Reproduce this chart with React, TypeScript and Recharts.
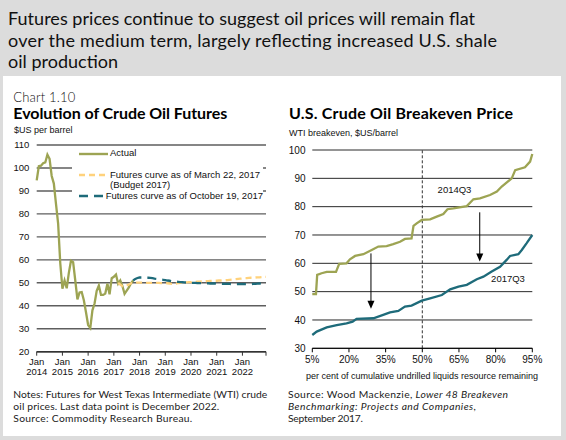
import React from 'react';
import {
  LineChart,
  Line,
  XAxis,
  YAxis,
  CartesianGrid,
  ReferenceLine,
} from 'recharts';

// left chart: monthly WTI, index 0 = Jan 2014
const yearLabels = ['2014', '2015', '2016', '2017', '2018', '2019', '2020', '2021', '2022'];
const priceTicks = [20, 30, 40, 50, 60, 70, 80, 90, 100, 110];
const actualPrices = [
  94.6, 100.8, 101.0, 102.1, 102.4, 105.8, 104.0, 96.5, 93.2, 84.4, 75.8, 58.5,
  47.4, 51.0, 47.6, 54.3, 59.6, 59.0, 51.0, 42.8, 45.8, 46.0, 42.4, 37.2,
  31.6, 30.3, 38.0, 41.0, 46.5, 48.8, 44.7, 44.7, 45.3, 49.6, 45.0, 52.0,
  52.6, 53.6, 49.6, 51.0, 48.6, 45.2, 46.6, 48.0, 49.8, 51.0,
];
const budgetStart = 38; // Mar 2017
const budgetFutures = [
  50.0, 49.2, 48.5, 48.4, 48.8, 49.3, 49.8, 50.0, 50.1, 50.1, 50.1, 50.1,
  50.1, 50.0, 50.0, 50.0, 50.0, 50.0, 50.0, 50.0, 49.9, 49.9, 49.9, 49.8,
  49.7, 49.5, 49.4, 49.6, 49.9, 50.0, 50.1, 50.2, 50.2, 50.3, 50.3, 50.4,
  50.4, 50.5, 50.5, 50.6, 50.6, 50.7, 50.7, 50.8, 50.8, 50.9, 50.9, 51.0,
  51.0, 51.1, 51.1, 51.2, 51.3, 51.4, 51.5, 51.6, 51.7, 51.8, 51.9, 52.0,
  52.0, 52.1, 52.2, 52.2, 52.3, 52.4, 52.4, 52.5, 52.6, 52.6,
];
const octStart = 45; // Oct 2017
const octFutures = [
  51.0, 51.7, 52.1, 52.3, 52.3, 52.3, 52.2, 52.2, 52.1, 52.0, 51.8, 51.7,
  51.5, 51.4, 51.3, 51.2, 51.0, 50.9, 50.7, 50.6, 50.5, 50.4, 50.3, 50.3,
  50.2, 50.1, 50.1, 50.0, 50.0, 50.0, 49.9, 49.9, 49.9, 49.8, 49.8, 49.8,
  49.7, 49.7, 49.7, 49.6, 49.6, 49.6, 49.5, 49.5, 49.5, 49.5, 49.4, 49.4,
  49.4, 49.4, 49.4, 49.4, 49.4, 49.4, 49.4, 49.4, 49.5, 49.5, 49.6, 49.7,
  49.8, 50.0, 50.3,
];
const lastMonth = 107; // Dec 2022

// right chart: breakeven curves
const shareTicks = [5, 20, 35, 50, 65, 80, 95];
const breakevenTicks = [30, 40, 50, 60, 70, 80, 90, 100];
const share2014 = [5, 6.5, 7, 8.8, 10.9, 14.7, 16, 19, 20.4, 22.5, 25.9, 29.3, 32, 35.4, 38.1, 40.9, 42.9, 45.6, 46.4, 47.7, 49.8, 53.2, 55.9, 58.6, 60.3, 62.7, 68.2, 70.9, 73.6, 77.7, 80.5, 82.5, 86.6, 88, 92, 94.1, 95];
const price2014 = [49.1, 49.1, 55.9, 56.5, 57, 57, 59.8, 60, 61.4, 62.6, 63.2, 64.7, 65.9, 66.1, 66.8, 67.6, 68.6, 68.8, 73.2, 74.1, 75.3, 75.5, 76.5, 77.4, 79.1, 79.4, 80.2, 82.6, 82.9, 84.1, 85.3, 87.1, 90, 92.9, 93.9, 95.9, 98.6];
const share2017 = [5, 6.8, 10.9, 15, 19, 21.5, 23.1, 30, 34, 36.8, 40.2, 42.9, 45.6, 49.8, 53.2, 58, 61.4, 64.8, 68.2, 72.3, 75, 78.4, 81.8, 84.5, 85.9, 89.3, 90.7, 92.7, 95];
const price2017 = [34.7, 35.9, 37.4, 38.2, 38.8, 39.4, 40.4, 40.6, 41.8, 42.7, 43.2, 44.7, 45.1, 46.8, 47.6, 48.8, 50.8, 51.8, 52.4, 54.4, 55.3, 57.1, 58.8, 61.2, 62.6, 63.2, 64.7, 67.1, 70];

const OLIVE = '#9DA453';
const YELLOW = '#FFD27C';
const TEAL = '#1E6B7A';
const GOTHIC = 'Lato, "Open Sans", sans-serif';
const ARIAL = '"Liberation Sans", Arial, sans-serif';

const futuresData = Array.from({ length: lastMonth + 1 }, (_, m) => ({
  month: m,
  actual: m < actualPrices.length ? actualPrices[m] : null,
  budget: m >= budgetStart && m - budgetStart < budgetFutures.length ? budgetFutures[m - budgetStart] : null,
  oct: m >= octStart && m - octStart < octFutures.length ? octFutures[m - octStart] : null,
}));

const curve2014 = share2014.map((s, i) => ({ share: s, price: price2014[i] }));
const curve2017 = share2017.map((s, i) => ({ share: s, price: price2017[i] }));

const YearTick = (props: any) => {
  const { x, y, payload } = props;
  const idx = payload.value / 12;
  if (!Number.isInteger(idx) || idx >= yearLabels.length) return null;
  return (
    <text x={x} y={y} textAnchor="middle" fontFamily={ARIAL} fontSize={9.5} fill="#111">
      <tspan x={x} dy={7.5}>Jan</tspan>
      <tspan x={x} dy={9.5}>{yearLabels[idx]}</tspan>
    </text>
  );
};

const Arrow = (props: any) => {
  const { x1, y1, x2, y2 } = props;
  return (
    <g>
      <line x1={x1} y1={y1} x2={x2} y2={y2 - 6} stroke="#000" strokeWidth={1} />
      <polygon points={`${x2 - 3.5},${y2 - 8} ${x2 + 3.5},${y2 - 8} ${x2},${y2}`} fill="#000" />
    </g>
  );
};

const LegendRow = ({ color, dash, label, label2, h }: any) => (
  <div style={{ display: 'flex', alignItems: 'flex-start', height: h }}>
    <svg width={33} height={10} style={{ marginTop: 0.5 }}>
      <line x1={2} y1={5} x2={31} y2={5} stroke={color} strokeWidth={2.4} strokeDasharray={dash} />
    </svg>
    <div style={{ fontFamily: ARIAL, fontSize: 9.5, lineHeight: '10.5px', color: '#111', whiteSpace: 'nowrap' }}>
      {label}
      {label2 ? <br /> : null}
      {label2}
    </div>
  </div>
);

export default function App() {
  return (
    <div style={{ position: 'absolute', left: 0, top: 0, width: 566, height: 440, background: '#DCDCDC', overflow: 'hidden' }}>
      <svg width={566} height={440} style={{ position: 'absolute', left: 0, top: 0 }}>
        <rect x={3} y={76} width={558} height={360} fill="#fff" />
        <g fontFamily={GOTHIC} fontSize={18} fill="#111">
          <text x={8} y={25} textLength={467}>Futures prices continue to suggest oil prices will remain flat</text>
          <text x={8} y={46.7} textLength={489}>over the medium term, largely reflecting increased U.S. shale</text>
          <text x={8} y={68.3} textLength={110}>oil production</text>
        </g>
        <text x={13.3} y={101.7} fontFamily={GOTHIC} fontSize={13} fontWeight={300} fill="#111" textLength={62}>Chart 1.10</text>
        <text x={13.3} y={119.3} fontFamily={GOTHIC} fontSize={16} fontWeight={700} fill="#000" textLength={214}>Evolution of Crude Oil Futures</text>
        <text x={14} y={132.7} fontFamily={ARIAL} fontSize={9} fill="#111">$US per barrel</text>
        <text x={289} y={119.3} fontFamily={GOTHIC} fontSize={16} fontWeight={700} fill="#000" textLength={224}>U.S. Crude Oil Breakeven Price</text>
        <text x={289} y={135.7} fontFamily={ARIAL} fontSize={9} fill="#111">WTI breakeven, $US/barrel</text>
        <text x={422} y={379} textAnchor="middle" fontFamily={ARIAL} fontSize={9} fill="#111">per cent of cumulative undrilled liquids resource remaining</text>
        <text x={454.5} y={192.5} textAnchor="middle" fontFamily={ARIAL} fontSize={9.5} fill="#111">2014Q3</text>
        <text x={508} y={281.5} textAnchor="middle" fontFamily={ARIAL} fontSize={9.5} fill="#111">2017Q3</text>
        <g fontFamily={GOTHIC} fontSize={10.3} fill="#222">
          <text x={13.3} y={397.5} textLength={254}>Notes: Futures for West Texas Intermediate (WTI) crude</text>
          <text x={13.3} y={409.5} textLength={206}>oil prices. Last data point is December 2022.</text>
          <text x={13.3} y={421.5} textLength={179}>Source: Commodity Research Bureau.</text>
          <text x={288} y={397.5} textLength={220}>
            Source: Wood Mackenzie, <tspan fontStyle="italic">Lower 48 Breakeven</tspan>
          </text>
          <text x={288} y={409.5} textLength={188} fontStyle="italic">Benchmarking: Projects and Companies,</text>
          <text x={288} y={421.5} textLength={75}>September 2017.</text>
        </g>
      </svg>

      <div style={{ position: 'absolute', left: 0, top: 130 }}>
        <LineChart width={283} height={260} data={futuresData} margin={{ top: 15, right: 17, bottom: 6.3, left: 0 }}>
          <CartesianGrid horizontal vertical={false} stroke="#5e5e5e" strokeWidth={1.4} />
          <XAxis
            dataKey="month"
            type="number"
            domain={[0, lastMonth]}
            ticks={[0, 12, 24, 36, 48, 60, 72, 84, 96, lastMonth]}
            height={32}
            tickSize={4}
            tickMargin={2}
            axisLine={{ stroke: '#333', strokeWidth: 1.5 }}
            tickLine={{ stroke: '#333' }}
            tick={<YearTick />}
            interval={0}
          />
          <YAxis
            type="number"
            domain={[20, 110]}
            ticks={priceTicks}
            width={36.7}
            axisLine={false}
            tickLine={false}
            tickSize={0}
            tickMargin={7.4}
            tick={{ fontFamily: ARIAL, fontSize: 9.5, fill: '#111' }}
            interval={0}
          />
          <Line dataKey="actual" stroke={OLIVE} strokeWidth={2.3} dot={false} isAnimationActive={false} connectNulls={false} />
          <Line dataKey="budget" stroke={YELLOW} strokeWidth={2.3} strokeDasharray="6 4" dot={false} isAnimationActive={false} />
          <Line dataKey="oct" stroke={TEAL} strokeWidth={2.3} strokeDasharray="9 6" dot={false} isAnimationActive={false} />
        </LineChart>
      </div>

      <div style={{ position: 'absolute', left: 72, top: 147, width: 186, padding: '1px 0 2px 5px', background: '#fff' }}>
        <LegendRow color={OLIVE} label="Actual" h={21.5} />
        <LegendRow color={YELLOW} dash="6 4" label="Futures curve as of March 22, 2017" label2="(Budget 2017)" h={21} />
        <LegendRow color={TEAL} dash="9 6" label="Futures curve as of October 19, 2017" h={11} />
      </div>

      <div style={{ position: 'absolute', left: 283, top: 130 }}>
        <LineChart width={283} height={260} margin={{ top: 20, right: 33.7, bottom: 21.7, left: 0 }}>
          <CartesianGrid horizontal vertical={false} stroke="#2a2a2a" strokeWidth={1} />
          <XAxis
            dataKey="share"
            type="number"
            domain={[5, 95]}
            ticks={shareTicks}
            tickFormatter={(v: number) => `${v}%`}
            height={20}
            tickSize={4}
            tickMargin={3.5}
            axisLine={{ stroke: '#000' }}
            tickLine={{ stroke: '#000' }}
            tick={{ fontFamily: ARIAL, fontSize: 10, fill: '#111' }}
            interval={0}
            allowDuplicatedCategory={false}
          />
          <YAxis
            type="number"
            domain={[30, 100]}
            ticks={breakevenTicks}
            width={29.3}
            axisLine={false}
            tickLine={false}
            tickSize={0}
            tickMargin={6.8}
            tick={{ fontFamily: ARIAL, fontSize: 10, fill: '#111' }}
            interval={0}
          />
          <ReferenceLine x={50} stroke="#333" strokeDasharray="3 2" />
          <Line data={curve2014} dataKey="price" stroke={OLIVE} strokeWidth={2.3} dot={false} isAnimationActive={false} />
          <Line data={curve2017} dataKey="price" stroke={TEAL} strokeWidth={2.3} dot={false} isAnimationActive={false} />
          <ReferenceLine segment={[{ x: 29, y: 63.5 }, { x: 29, y: 44 }]} shape={<Arrow />} />
          <ReferenceLine segment={[{ x: 73.5, y: 78 }, { x: 73.5, y: 60.6 }]} shape={<Arrow />} />
        </LineChart>
      </div>
    </div>
  );
}
